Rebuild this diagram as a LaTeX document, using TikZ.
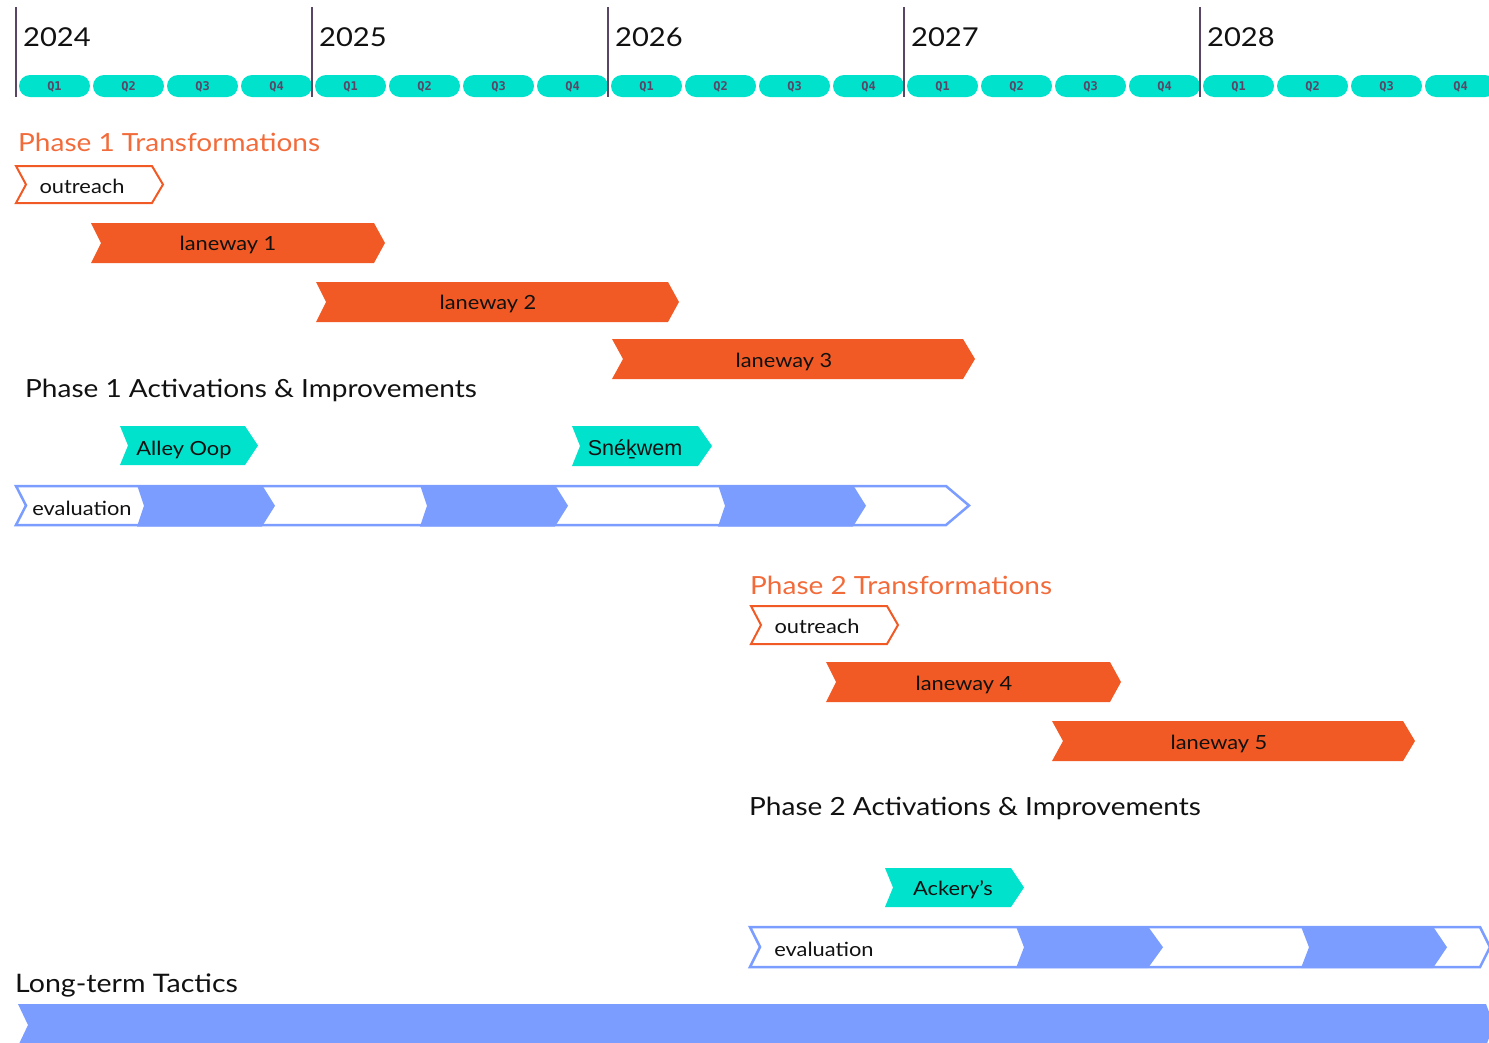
\documentclass[tikz,border=0pt]{standalone}
\usepackage{fontspec}
\setmainfont[FakeStretch=1.12]{Lato}
\newfontfamily\qfont{DejaVu Sans Mono}
\newfontfamily\arialfont{Liberation Sans}

\definecolor{rust}{HTML}{F15A24}
\definecolor{rusttext}{HTML}{F26B3A}
\definecolor{aqua}{HTML}{00E2CC}
\definecolor{periwinkle}{HTML}{7B9DFF}
\definecolor{plum}{HTML}{5A4566}
\definecolor{ink}{HTML}{111111}

% chevron: style, x-left, x-right, y-top, y-bottom, notch depth, point depth
\newcommand\chev[7]{%
  \path[#1] (#2,#4) -- (#3,#4) -- ({#3+#7},{(#4+#5)/2}) -- (#3,#5) -- (#2,#5)
    -- ({#2+#6},{(#4+#5)/2}) -- cycle;}

\tikzset{
  yearline/.style={draw=plum, line width=2pt},
  yearlabel/.style={anchor=west, text=ink, font=\fontsize{26}{26}\selectfont, inner sep=0pt},
  qpill/.style={fill=aqua, rounded corners=11pt},
  qlabel/.style={text=plum, font=\qfont\bfseries\fontsize{12}{12}\selectfont, inner sep=0pt},
  headorange/.style={anchor=west, text=rusttext, font=\fontsize{25}{25}\selectfont, inner sep=0pt},
  headblack/.style={anchor=west, text=ink, font=\fontsize{25}{25}\selectfont, inner sep=0pt},
  barlabel/.style={text=ink, font=\fontsize{19.5}{19.5}\selectfont, inner sep=0pt},
  outreachbox/.style={draw=rust, fill=white, line width=2pt},
  lanebox/.style={fill=rust},
  actbox/.style={fill=aqua},
  evalframe/.style={draw=periwinkle, fill=white, line width=2.5pt},
  evalfill/.style={fill=periwinkle},
}

\begin{document}
\begin{tikzpicture}[x=1pt,y=-1pt]
\useasboundingbox (0,0) rectangle (1489,1042);

% year columns and quarter pills
\foreach \yr [count=\k from 0] in {2024,2025,2026,2027,2028} {
  \pgfmathsetmacro\xs{16+296*\k}
  \draw[yearline] (\xs,7) -- (\xs,97);
  \node[yearlabel] (year\yr) at (\xs+7,37) {\yr};
  \foreach \q in {0,1,2,3} {
    \pgfmathsetmacro\qx{\xs+3+74*\q}
    \pgfmathtruncatemacro\qn{\q+1}
    \fill[qpill] (\qx,75) rectangle (\qx+71,97);
    \node[qlabel] (q\yr-\qn) at (\qx+35.5,86.5) {Q\qn};
  }
}

% Phase 1 transformations
\node[headorange] (p1t) at (18,142) {Phase 1 Transformations};
\chev{outreachbox}{16}{152}{166}{203}{10}{11}
\node[barlabel] (out1) at (82,186) {outreach};
\chev{lanebox}{91}{374}{223}{263}{10}{11}
\node[barlabel] (lane1) at (228,245) {laneway 1};
\chev{lanebox}{316}{668}{282}{322}{10}{11}
\node[barlabel] (lane2) at (488,304) {laneway 2};
\chev{lanebox}{612}{963}{339}{379}{11}{12}
\node[barlabel] (lane3) at (784,362) {laneway 3};

% Phase 1 activations
\node[headblack] (p1a) at (25,390) {Phase 1 Activations \& Improvements};
\chev{actbox}{120}{245}{426}{465}{8}{13}
\node[barlabel] (alley) at (184,450) {Alley Oop};
\chev{actbox}{572}{698}{426}{466}{8}{14}
\node[barlabel, font=\arialfont\fontsize{21.5}{21.5}\selectfont] (snek) at (635,449) {Snéḵwem};

% Phase 1 evaluation
\chev{evalframe}{16}{946}{486}{525}{10}{23}
\chev{evalfill}{137}{262}{485}{526.5}{7}{13}
\chev{evalfill}{420}{555}{485}{526.5}{7}{13}
\chev{evalfill}{718}{853}{485}{526.5}{7}{13}
\node[barlabel] (eval1) at (82,508) {evaluation};

% Phase 2 transformations
\node[headorange] (p2t) at (750,585) {Phase 2 Transformations};
\chev{outreachbox}{751}{887}{606}{644}{10}{11}
\node[barlabel] (out2) at (817,626) {outreach};
\chev{lanebox}{826}{1110}{662}{702}{10}{11}
\node[barlabel] (lane4) at (964,685) {laneway 4};
\chev{lanebox}{1052}{1403}{721}{761}{11}{12}
\node[barlabel] (lane5) at (1219,744) {laneway 5};

% Phase 2 activations
\node[headblack] (p2a) at (749,808) {Phase 2 Activations \& Improvements};
\chev{actbox}{885}{1011}{868}{907}{8}{13}
\node[barlabel] (ackery) at (953,890) {Ackery’s};

% Phase 2 evaluation
\chev{evalframe}{750}{1480}{927}{967}{10}{10}
\chev{evalfill}{1016}{1148}{926.5}{968}{8}{15}
\chev{evalfill}{1301}{1433}{926.5}{968}{8}{14}
\node[barlabel] (eval2) at (824,949) {evaluation};

% Long-term tactics
\node[headblack, font=\fontsize{25.5}{25.5}\selectfont] (ltt) at (15,985) {Long-term Tactics};
\chev{evalfill}{18}{1486}{1004}{1046}{10}{8}
\end{tikzpicture}
\end{document}
